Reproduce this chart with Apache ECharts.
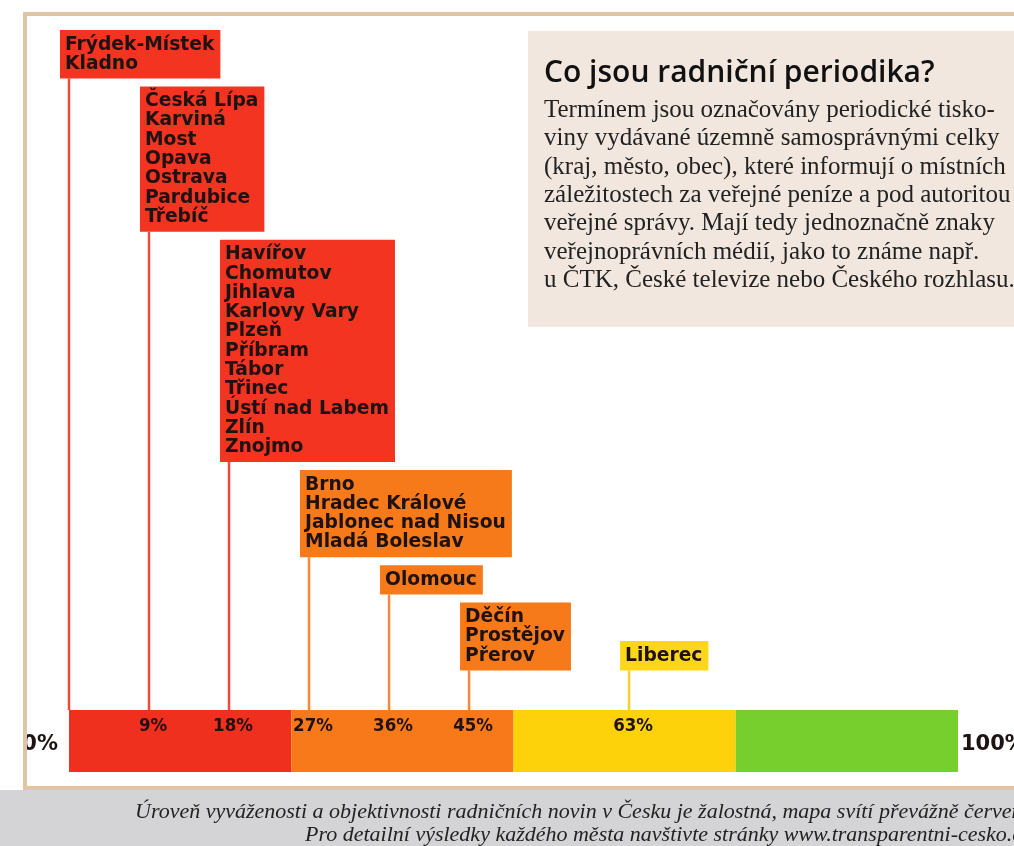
<!DOCTYPE html>
<html><head><meta charset="utf-8">
<script src="https://cdn.jsdelivr.net/npm/echarts@6/dist/echarts.min.js"></script>
<style>html,body{margin:0;padding:0;background:#fff}#c{width:1014px;height:846px}</style>
</head><body><div id="c"></div>
<script>
// ---------- DATA ----------
const cityGroups = [
  ['Frýdek-Místek', 'Kladno'],
  ['Česká Lípa', 'Karviná', 'Most', 'Opava', 'Ostrava', 'Pardubice', 'Třebíč'],
  ['Havířov', 'Chomutov', 'Jihlava', 'Karlovy Vary', 'Plzeň', 'Příbram', 'Tábor', 'Třinec', 'Ústí nad Labem', 'Zlín', 'Znojmo'],
  ['Brno', 'Hradec Králové', 'Jablonec nad Nisou', 'Mladá Boleslav'],
  ['Olomouc'],
  ['Děčín', 'Prostějov', 'Přerov'],
  ['Liberec']
];
const groupScores = [0, 9, 18, 27, 36, 45, 63];
const scoreLabels = ['', '9%', '18%', '27%', '36%', '45%', '63%'];
const bandStarts = [0, 25, 50, 75];
const bandEnds = [25, 50, 75, 100];
const endValues = [0, 100];
const endLabels = ['0%', '100%'];

const infoTitle = 'Co jsou radniční periodika?';
const infoLines = [
  'Termínem jsou označovány periodické tisko-',
  'viny vydávané územně samosprávnými celky',
  '(kraj, město, obec), které informují o místních',
  'záležitostech za veřejné peníze a pod autoritou',
  'veřejné správy. Mají tedy jednoznačně znaky',
  'veřejnoprávních médií, jako to známe např.',
  'u ČTK, České televize nebo Českého rozhlasu.'
];
const captionLines = [
  'Úroveň vyváženosti a objektivnosti radničních novin v Česku je žalostná, mapa svítí převážně červeně.',
  'Pro detailní výsledky každého města navštivte stránky www.transparentni-cesko.cz.'
];

// ---------- STYLE ----------
const BAND_COLORS = ['#f0301f', '#f77919', '#fdd20b', '#77cf2d'];
const BOX_COLORS = ['#f23421', '#f77a1a', '#fcd719'];
const STEM_COLORS = ['#ec4b3c', '#f38a3a', '#f8cd35'];
const TEXT_DARK = '#1e1212';
const BOX_FONT_FAMILY = '"DejaVu Sans", sans-serif';
const PCT_FONT_FAMILY = '"DejaVu Sans Condensed", "DejaVu Sans", sans-serif';
const BOX_FONT_SIZE = 18.7;
const LINE_H = 19.3, PAD_V = 5, PAD_L = 5, PAD_R = 6, GAP = 8, FIRST_TOP = 30, STEM_INSET = 9;

const measureCtx = document.createElement('canvas').getContext('2d');
function textW(t) {
  measureCtx.font = 'bold ' + BOX_FONT_SIZE + 'px ' + BOX_FONT_FAMILY;
  return measureCtx.measureText(t).width;
}
function bandIndex(v) {
  for (let i = 0; i < bandStarts.length; i++) if (v >= bandStarts[i] && v < bandEnds[i]) return i;
  return bandStarts.length - 1;
}
function layoutBoxes(api) {
  const out = []; let prev = null;
  groupScores.forEach((v, i) => {
    const xp = api.coord([v, 1])[0];
    const n = cityGroups[i].length;
    const w = Math.max(...cityGroups[i].map(textW)) + PAD_L + PAD_R;
    const h = n * LINE_H + 2 * PAD_V;
    const left = xp - STEM_INSET;
    let top;
    if (!prev) top = FIRST_TOP;
    else if (left < prev.left + prev.w) top = prev.top + prev.h + GAP;
    else top = prev.top + prev.h - h;
    const b = { xp, left, w, h, top };
    out.push(b); prev = b;
  });
  return out;
}

const chart = echarts.init(document.getElementById('c'), null, { renderer: 'canvas' });

const option = {
  backgroundColor: '#ffffff',
  animation: false,
  grid: { left: 69, right: 56, top: 710, bottom: 74 },
  xAxis: { type: 'value', min: 0, max: 100, show: false },
  yAxis: { type: 'value', min: 0, max: 1, show: false },
  graphic: [
    { type: 'rect', z: 0, shape: { x: 0, y: 790, width: 1014, height: 56 }, style: { fill: '#d4d4d6' } },
    { type: 'rect', z: 100, shape: { x: 0, y: 0, width: 23, height: 790 }, style: { fill: '#ffffff' } },
    { type: 'rect', z: 100, shape: { x: 25, y: 14, width: 1100, height: 774 }, style: { fill: 'none', stroke: '#dfc4a6', lineWidth: 4 } },
    { type: 'rect', z: 0, shape: { x: 528, y: 31, width: 520, height: 296 }, style: { fill: '#f1e7de' } },
    { type: 'text', z: 1, x: 544, y: 73, style: { text: infoTitle, fontFamily: '"Open Sans", sans-serif', fontWeight: 600, fontSize: 30, fill: '#111', verticalAlign: 'middle' } },
    { type: 'text', z: 1, x: 544, y: 96, style: { text: infoLines.join('\n'), fontFamily: '"Liberation Serif", serif', fontSize: 25, lineHeight: 28.4, fill: '#222', verticalAlign: 'top' } },
    { type: 'text', z: 1, x: 135, y: 812, style: { text: captionLines[0], fontFamily: '"Liberation Serif", serif', fontStyle: 'italic', fontSize: 22, fill: '#222', verticalAlign: 'middle' } },
    { type: 'text', z: 1, x: 305, y: 835, style: { text: captionLines[1], fontFamily: '"Liberation Serif", serif', fontStyle: 'italic', fontSize: 22, fill: '#222', verticalAlign: 'middle' } }
  ],
  series: [
    {
      type: 'custom', name: 'bands', z: 2,
      data: bandStarts.map((s, i) => [s, bandEnds[i], i]),
      renderItem: (params, api) => {
        const p0 = api.coord([api.value(0), 1]);
        const p1 = api.coord([api.value(1), 0]);
        return { type: 'rect', shape: { x: p0[0], y: p0[1], width: p1[0] - p0[0], height: p1[1] - p0[1] }, style: { fill: BAND_COLORS[api.value(2)] } };
      }
    },
    {
      type: 'custom', name: 'ends', z: 3,
      data: endValues.map((v, i) => [v, 0.5, i]),
      renderItem: (params, api) => {
        const i = api.value(2);
        const p = api.coord([api.value(0), api.value(1)]);
        return {
          type: 'text',
          style: {
            text: endLabels[i], x: p[0] + (i === 0 ? -11 : 3), y: p[1] + 4,
            align: i === 0 ? 'right' : 'left', verticalAlign: 'middle',
            fontFamily: BOX_FONT_FAMILY, fontWeight: 'bold', fontSize: 21, fill: TEXT_DARK
          }
        };
      }
    },
    {
      type: 'custom', name: 'callouts', z: 4,
      data: groupScores.map((v, i) => [v, i]),
      renderItem: (params, api) => {
        const boxes = layoutBoxes(api);
        const i = api.value(1);
        const b = boxes[i];
        const k = bandIndex(groupScores[i]);
        const barTop = api.coord([0, 1])[1];
        const children = [
          { type: 'line', shape: { x1: b.xp, y1: b.top + b.h, x2: b.xp, y2: barTop }, style: { stroke: STEM_COLORS[k], lineWidth: 2.5 } },
          { type: 'rect', shape: { x: b.left, y: b.top, width: b.w, height: b.h }, style: { fill: BOX_COLORS[k] } },
          { type: 'text', style: { text: cityGroups[i].join('\n'), x: b.left + PAD_L, y: b.top + PAD_V, verticalAlign: 'top', align: 'left', lineHeight: LINE_H, fontFamily: BOX_FONT_FAMILY, fontWeight: 'bold', fontSize: BOX_FONT_SIZE, fill: TEXT_DARK } }
        ];
        if (scoreLabels[i]) {
          children.push({ type: 'text', style: { text: scoreLabels[i], x: b.xp + 4, y: barTop + 16, align: 'center', verticalAlign: 'middle', fontFamily: PCT_FONT_FAMILY, fontWeight: 'bold', fontSize: 18.5, fill: TEXT_DARK } });
        }
        return { type: 'group', children };
      }
    }
  ]
};
chart.setOption(option);
</script>
</body></html>
